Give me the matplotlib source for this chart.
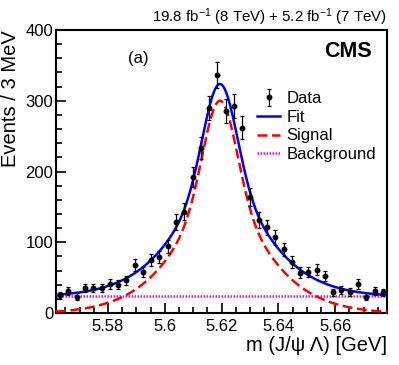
#!/usr/bin/env python3

import numpy as np
import matplotlib
matplotlib.use('Agg')
import matplotlib.pyplot as plt
from matplotlib.ticker import MultipleLocator, FuncFormatter

plt.rcParams['font.family'] = ['Liberation Sans', 'DejaVu Sans']
plt.rcParams['mathtext.fontset'] = 'custom'
plt.rcParams['mathtext.rm'] = 'Liberation Sans'
plt.rcParams['mathtext.it'] = 'Liberation Sans:italic'

# mass window and binning (40 bins)
m_lo = 5.5617
m_hi = 5.6782
n_bins = 40

# events per bin
counts = [25, 31, 23, 35, 35, 35, 41, 40, 46, 68,
          58, 75, 79, 94, 129, 143, 192, 233, 290, 336,
          285, 292, 262, 164, 131, 121, 107, 90, 72, 57,
          58, 61, 52, 29, 32, 30, 41, 23, 31, 29]

# fit result: flat background + triple gaussian signal
mean = 5.6194
bkg_level = 23.7
sig_amps = [150, 75, 75]
sig_widths = [0.0058, 0.0125, 0.0215]

xtick_labels = ['5.58', '5.6', '5.62', '5.64', '5.66']


def signal(m):
    '''sum of the gaussian components sharing one mean'''
    s = np.zeros_like(m)
    for a, w in zip(sig_amps, sig_widths):
        s += a*np.exp(-0.5*((m - mean)/w)**2)
    return s


edges = np.linspace(m_lo, m_hi, n_bins + 1)
centers = 0.5*(edges[1:] + edges[:-1])
counts = np.array(counts, dtype=float)
errors = np.sqrt(counts)

fig = plt.figure(figsize=(3.99, 3.65), dpi=100)
ax = fig.add_axes([56/399, 1 - 313/365, 331/399, 283/365])

mm = np.linspace(m_lo, m_hi, 400)
sig = signal(mm)
bkg = np.full_like(mm, bkg_level)

ax.plot(mm, bkg, color='#ff00ff', lw=1.8, ls=(0, (0.6, 0.6)),
        label='Background', zorder=2)
ax.plot(mm, sig, color='#ff0000', lw=1.8, ls=(0, (4, 1.8)),
        label='Signal', zorder=3)
ax.plot(mm, sig + bkg, color='#0000ff', lw=1.8, label='Fit', zorder=4)
ax.errorbar(centers, counts, yerr=errors, fmt='o', color='black',
            ms=3.2, elinewidth=0.9, capsize=1.2, capthick=0.9,
            label='Data', zorder=5)

ax.set_xlim(m_lo, m_hi)
ax.set_ylim(0, 400)

# ROOT-like ticks: inward, only on left and bottom
ax.xaxis.set_major_locator(MultipleLocator(0.02))
ax.xaxis.set_minor_locator(MultipleLocator(0.005))
ax.yaxis.set_major_locator(MultipleLocator(100))
ax.yaxis.set_minor_locator(MultipleLocator(20))
ax.xaxis.set_major_formatter(FuncFormatter(lambda v, p: '%g' % round(v, 2)))
ax.tick_params(which='both', direction='in', top=False, right=False,
               width=1.2, labelsize=12)
ax.tick_params(which='major', length=7)
ax.tick_params(which='minor', length=4.5)
ax.tick_params(axis='x', pad=4)
ax.tick_params(axis='y', pad=2)
for sp in ax.spines.values():
    sp.set_linewidth(1.5)

ax.set_xlabel('m (J/ψ Λ) [GeV]', fontsize=14.5, loc='right', labelpad=2)
ax.set_ylabel('Events / 3 MeV', fontsize=14.5, loc='top', labelpad=4)

# legend in the original order
h, l = ax.get_legend_handles_labels()
order = ['Data', 'Fit', 'Signal', 'Background']
hd = dict(zip(l, h))
ax.legend([hd[k] for k in order], order, loc='upper left',
          bbox_to_anchor=((257 - 56)/331, (313 - 91)/283), frameon=False,
          fontsize=12, borderpad=0, borderaxespad=0, handlelength=1.4,
          handletextpad=0.35, labelspacing=0.22)

ax.text(0.2175, 0.901, '(a)', transform=ax.transAxes, fontsize=12,
        ha='left', va='center')
ax.text(0.9547, 0.923, 'CMS', transform=ax.transAxes, fontsize=15.5,
        fontweight='bold', ha='right', va='center')
ax.text(1.0, 1.03, '19.8 fb$^{-1}$ (8 TeV) + 5.2 fb$^{-1}$ (7 TeV)',
        transform=ax.transAxes, fontsize=10.8, ha='right', va='baseline')

fig.savefig('out.png', dpi=100)
